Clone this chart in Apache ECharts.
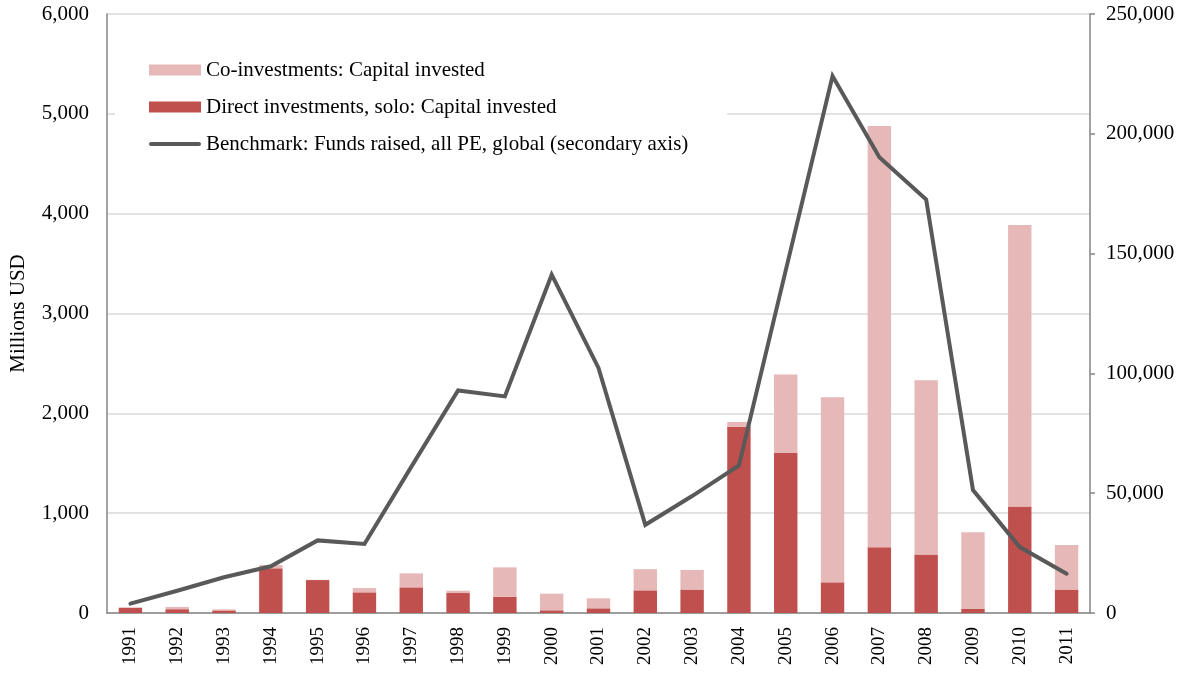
<!DOCTYPE html>
<html>
<head>
<meta charset="utf-8">
<script src="https://cdn.jsdelivr.net/npm/echarts@6/dist/echarts.min.js"></script>
<style>
  html, body { margin: 0; padding: 0; background: #ffffff; }
  #chart { width: 1185px; height: 674px; }
</style>
</head>
<body>
<div id="chart"></div>
<script>
// Years on the category axis
const years = ['1991','1992','1993','1994','1995','1996','1997','1998','1999','2000',
               '2001','2002','2003','2004','2005','2006','2007','2008','2009','2010','2011'];

// Direct investments, solo (millions USD) - bottom of the stack
const directSolo = [53, 38, 26, 447, 330, 207, 257, 200, 163, 27,
                    47, 227, 235, 1866, 1603, 307, 658, 586, 40, 1068, 235];

// Co-investments (millions USD) - stacked on top
const coInvest = [0, 22, 10, 33, 3, 43, 140, 23, 294, 166,
                  100, 212, 196, 48, 785, 1853, 4221, 1746, 770, 2818, 447];

// Funds raised, all PE, global (millions USD, secondary axis)
const benchmark = [3900, 9300, 14900, 19500, 30300, 28800, 61000, 92900, 90400, 141200,
                   102300, 36800, 48800, 61600, 143000, 224100, 190200, 172600, 51300, 27500, 16400];

const leftTicks = { min: 0, max: 6000, interval: 1000 };
const rightTicks = { min: 0, max: 250000, interval: 50000 };

const names = [
  'Co-investments: Capital invested',
  'Direct investments, solo: Capital invested',
  'Benchmark: Funds raised, all PE, global (secondary axis)'
];

const FONT = "'Liberation Serif', 'Times New Roman', serif";
const AXIS_GRAY = '#868686';
const GRID_GRAY = '#D9D9D9';
const LINE_GRAY = '#595959';
const fmt = v => v.toLocaleString('en-US');

// Legend key for the line: a thick rounded stroke centred in a 52x11 box
// (two hairline corner marks fix the box so the stroke is not stretched)
const lineKey = 'path://M0,0 L0.01,0 L0,0.01 Z M0,11 L0.01,11 L0,10.99 Z ' +
                'M2,3.5 L50,3.5 A2,2 0 0 1 50,7.5 L2,7.5 A2,2 0 0 1 2,3.5 Z';

const chart = echarts.init(document.getElementById('chart'), null, { renderer: 'canvas' });

chart.setOption({
  animation: false,
  backgroundColor: '#ffffff',
  textStyle: { fontFamily: FONT, color: '#000000' },
  grid: { left: 103, right: 95, top: 14, bottom: 61, containLabel: false },
  legend: {
    orient: 'vertical',
    left: 115,
    top: 38,
    padding: [20, 39, 20, 34],
    backgroundColor: '#ffffff',
    itemWidth: 52,
    itemHeight: 11,
    itemGap: 13,
    selectedMode: false,
    textStyle: { fontFamily: FONT, fontSize: 21, color: '#000000', lineHeight: 24 },
    data: [
      { name: names[0], icon: 'rect' },
      { name: names[1], icon: 'rect' },
      { name: names[2], icon: lineKey, itemStyle: { color: LINE_GRAY, borderWidth: 0 } }
    ],
    z: 10
  },
  xAxis: {
    type: 'category',
    data: years,
    boundaryGap: true,
    axisLine: { lineStyle: { color: AXIS_GRAY, width: 1.5 } },
    axisTick: { show: false },
    axisLabel: { rotate: 90, margin: 14, fontSize: 19, fontFamily: FONT, color: '#000000' },
    splitLine: { show: false }
  },
  yAxis: [
    {
      type: 'value',
      min: leftTicks.min, max: leftTicks.max, interval: leftTicks.interval,
      name: 'Millions USD',
      nameLocation: 'middle',
      nameGap: 78,
      nameRotate: 90,
      nameTextStyle: { fontSize: 21, fontFamily: FONT, color: '#000000' },
      axisLine: { show: true, lineStyle: { color: AXIS_GRAY, width: 1.5 } },
      axisTick: { show: false },
      axisLabel: { margin: 18, fontSize: 21, fontFamily: FONT, color: '#000000', formatter: fmt },
      splitLine: { show: true, lineStyle: { color: GRID_GRAY, width: 1.5 } }
    },
    {
      type: 'value',
      position: 'right',
      min: rightTicks.min, max: rightTicks.max, interval: rightTicks.interval,
      axisLine: { show: true, lineStyle: { color: AXIS_GRAY, width: 1.5 } },
      axisTick: { show: true, inside: false, length: 5, lineStyle: { color: AXIS_GRAY, width: 1.5 } },
      axisLabel: { margin: 16, fontSize: 21, fontFamily: FONT, color: '#000000', formatter: fmt },
      splitLine: { show: false }
    }
  ],
  series: [
    {
      name: names[1],
      type: 'bar',
      stack: 'capital',
      yAxisIndex: 0,
      barWidth: '50%',
      itemStyle: { color: '#C0504D' },
      data: directSolo,
      z: 2
    },
    {
      name: names[0],
      type: 'bar',
      stack: 'capital',
      yAxisIndex: 0,
      barWidth: '50%',
      itemStyle: { color: '#E6B9B8' },
      data: coInvest,
      z: 2
    },
    {
      name: names[2],
      type: 'line',
      yAxisIndex: 1,
      symbol: 'none',
      showSymbol: false,
      lineStyle: { color: LINE_GRAY, width: 4, cap: 'round', join: 'miter' },
      itemStyle: { color: LINE_GRAY },
      data: benchmark,
      z: 5
    }
  ]
});
</script>
</body>
</html>
